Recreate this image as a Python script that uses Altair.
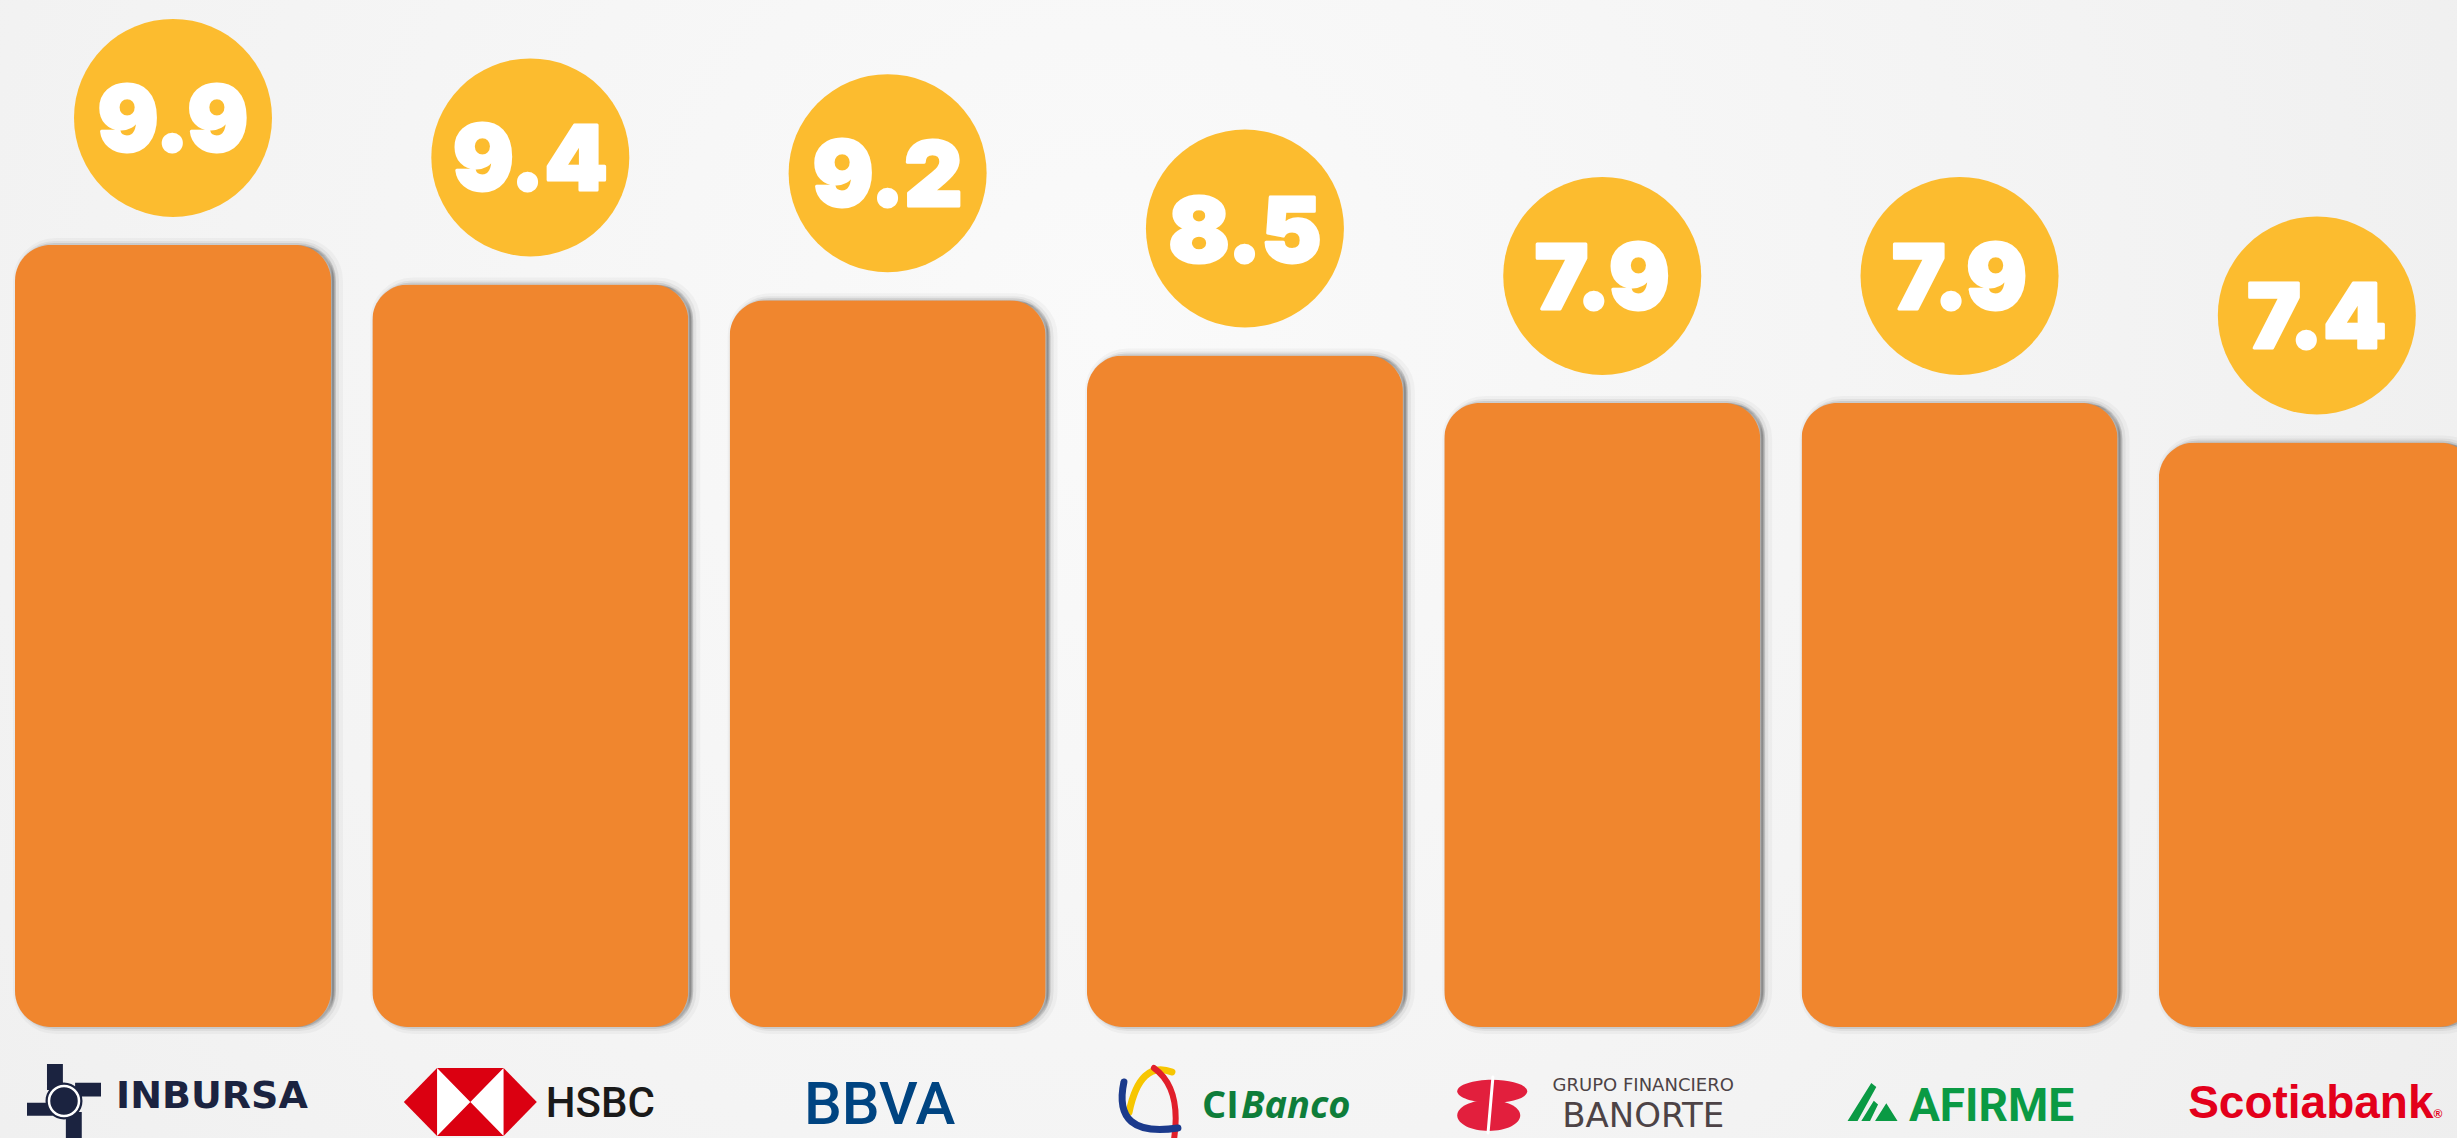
import altair as alt
import pandas as pd

# ---- data -------------------------------------------------------------
banks = ["INBURSA", "HSBC", "BBVA", "CIBanco", "BANORTE", "AFIRME", "Scotiabank"]
scores = [9.9, 9.4, 9.2, 8.5, 7.9, 7.9, 7.4]
banorte_top = "GRUPO FINANCIERO"
cibanco_parts = ["CI", "Banco"]

W, H = 2457, 1138
df = pd.DataFrame({"bank": banks, "score": scores})

x_scale = alt.Scale(domain=banks, range=[-5.65, 2495.5],
                    paddingInner=0.1156, paddingOuter=0.0578)
y_scale = alt.Scale(domain=[0, 13], range=[1027, 0])
X = alt.X("bank:N", scale=x_scale, axis=None, sort=banks)
Y = alt.Y("score:Q", scale=y_scale, axis=None)

BAR = "#F0862E"
CIRCLE = "#FCBC2F"
RADIUS = 36

# ---- background -------------------------------------------------------
bg = alt.Chart(pd.DataFrame({"k": [0]})).mark_rect(
    fill=alt.Gradient(
        gradient="radial",
        stops=[alt.GradientStop(color="#FAFAFA", offset=0),
               alt.GradientStop(color="#F3F3F3", offset=0.55),
               alt.GradientStop(color="#ECECEC", offset=1)],
        x1=0.45, y1=0.4, r1=0, x2=0.45, y2=0.4, r2=0.75,
    ),
    strokeWidth=0,
).encode(x=alt.value(0), x2=alt.value(W), y=alt.value(0), y2=alt.value(H))


def shadow(sw, op, dx, dy):
    return alt.Chart(df).mark_bar(
        cornerRadius=RADIUS, fill="#000000", fillOpacity=op, stroke="#000000",
        strokeOpacity=op, strokeWidth=sw, xOffset=dx, yOffset=dy,
        x2Offset=dx, y2Offset=dy,
    ).encode(x=X, y=Y)


shadows = [shadow(14, 0.03, 5, 4), shadow(8, 0.05, 4, 3), shadow(4, 0.09, 3, 2)]

bars = alt.Chart(df).mark_bar(
    fill=BAR, fillOpacity=1, strokeWidth=0, cornerRadius=RADIUS
).encode(x=X, y=Y)

circles = alt.Chart(df).mark_circle(
    size=198 ** 2, fill=CIRCLE, fillOpacity=1, strokeWidth=0, yOffset=-127
).encode(x=X, y=Y)

values = alt.Chart(df).mark_text(
    font="Inter", fontWeight=900, fontSize=90, color="white",
    stroke="white", strokeWidth=3, strokeJoin="round",
    align="center", baseline="alphabetic", dy=-127 + 33,
).encode(x=X, y=Y, text=alt.Text("score:Q", format=".1f"))


# ---- logos ------------------------------------------------------------
def logo_text(bank, dx, base_y, size, color, font, weight="bold",
              style="normal", align="center", text=None):
    t = alt.Text("bank:N") if text is None else alt.value(text)
    return alt.Chart(df).transform_filter(alt.datum.bank == bank).mark_text(
        dx=dx, fontSize=size, color=color, font=font, fontWeight=weight,
        fontStyle=style, align=align, baseline="alphabetic",
    ).encode(x=X, y=alt.value(base_y), text=t)


def logo_icon(bank, path, dx, cy, px, fill=None, stroke=None, sw=0):
    kw = dict(shape=path, size=px * px, xOffset=dx, opacity=1)
    if fill is not None:
        kw.update(filled=True, fill=fill, fillOpacity=1)
    else:
        kw.update(filled=False)
    if stroke is not None:
        kw.update(stroke=stroke, strokeWidth=sw, strokeOpacity=1, strokeCap="round")
    else:
        kw.update(strokeWidth=0)
    return alt.Chart(df).transform_filter(alt.datum.bank == bank).mark_point(**kw).encode(
        x=X, y=alt.value(cy))


inbursa_path = ("M -0.46 -1 L -0.03 -1 L -0.03 -0.3 L -0.46 -0.3 Z "
                "M 0.3 -0.49 L 1 -0.49 L 1 -0.12 L 0.3 -0.12 Z "
                "M 0.05 0.3 L 0.48 0.3 L 0.48 1 L 0.05 1 Z "
                "M -1 0.05 L -0.3 0.05 L -0.3 0.4 L -1 0.4 Z "
                "M 0.5 0 A 0.5 0.5 0 1 1 -0.5 0 A 0.5 0.5 0 1 1 0.5 0 Z")
hsbc_hex = "M -1 0 L -0.5 -0.511 L 0.5 -0.511 L 1 0 L 0.5 0.511 L -0.5 0.511 Z"
hsbc_bow = "M -0.5 -0.511 L 0 0 L -0.5 0.511 Z M 0.5 -0.511 L 0 0 L 0.5 0.511 Z"
banorte_top_path = "M -1 -0.39 A 1 0.33 0 1 1 1 -0.39 A 1 0.33 0 1 1 -1 -0.39 Z"
banorte_bot_path = "M -1 0.3 A 0.9 0.44 0 1 1 0.8 0.3 A 0.9 0.44 0 1 1 -1 0.3 Z"
banorte_slash = "M 0.02 -0.8 L -0.12 0.8"
afirme_path = ("M -1 0.76 L -0.05 -0.76 L 0.15 -0.6 L -0.6 0.76 Z "
               "M -0.45 0.76 L 0.05 -0.05 L 0.22 0.1 L -0.1 0.76 Z "
               "M 0.1 0.76 L 0.55 0.05 L 1 0.76 Z")
ci_yellow = "M -0.62 0.3 Q -0.35 -1.0 0.45 -0.7"
ci_red = "M 0.0 -0.8 Q 0.7 -0.3 0.5 1.0"
ci_blue = "M -0.75 -0.45 Q -1.05 0.95 0.6 0.7"

logos = [
    # INBURSA
    logo_icon("INBURSA", inbursa_path, -109, 1101, 74, fill="#1B2340"),
    logo_icon("INBURSA", "circle", -109, 1101, 30, stroke="white", sw=2.5),
    logo_text("INBURSA", 39, 1108, 38, "#1B2340", "DejaVu Sans"),
    # HSBC
    logo_icon("HSBC", hsbc_hex, -60, 1102, 133, fill="#DB0011"),
    logo_icon("HSBC", hsbc_bow, -60, 1102, 133, fill="white"),
    logo_text("HSBC", 70, 1117, 42, "#1A1A1A", "Roboto", weight=500),
    # BBVA
    logo_text("BBVA", -8, 1124, 60, "#004481", "Roboto", weight=500),
    # CIBanco
    logo_icon("CIBanco", ci_yellow, -91, 1100, 80, stroke="#F7C600", sw=7),
    logo_icon("CIBanco", ci_red, -91, 1100, 80, stroke="#E11F2B", sw=6),
    logo_icon("CIBanco", ci_blue, -91, 1100, 80, stroke="#1B3A8C", sw=7),
    logo_text("CIBanco", -43, 1118, 38, "#0E7D3A", "Open Sans", align="left",
              text=cibanco_parts[0]),
    logo_text("CIBanco", -4, 1118, 38, "#0E7D3A", "Open Sans", align="left",
              style="italic", text=cibanco_parts[1]),
    # BANORTE
    logo_icon("BANORTE", banorte_top_path, -110, 1105, 70, fill="#E21F3D"),
    logo_icon("BANORTE", banorte_bot_path, -110, 1105, 70, fill="#E21F3D"),
    logo_icon("BANORTE", banorte_slash, -110, 1105, 70, stroke="white", sw=3),
    logo_text("BANORTE", 41, 1091, 18, "#4D4346", "DejaVu Sans", weight="normal",
              text=banorte_top),
    logo_text("BANORTE", 41, 1127, 34, "#4D4346", "DejaVu Sans", weight="normal"),
    # AFIRME
    logo_icon("AFIRME", afirme_path, -87, 1102, 50, fill="#0A9A44"),
    logo_text("AFIRME", 32, 1121, 46, "#0A9A44", "Roboto", weight=700),
    # Scotiabank
    logo_text("Scotiabank", -6, 1118, 46, "#E3001B", "Liberation Sans"),
    logo_text("Scotiabank", 121, 1118, 12, "#E3001B", "Liberation Sans", text="®"),
]

chart = alt.layer(bg, *shadows, bars, circles, values, *logos).properties(
    width=W, height=H, padding=0, autosize=alt.AutoSizeParams(type="none"),
    background="#F0F0F0",
).configure_view(stroke=None)

chart.save("out.html", embed_options={"renderer": "svg", "actions": False})
